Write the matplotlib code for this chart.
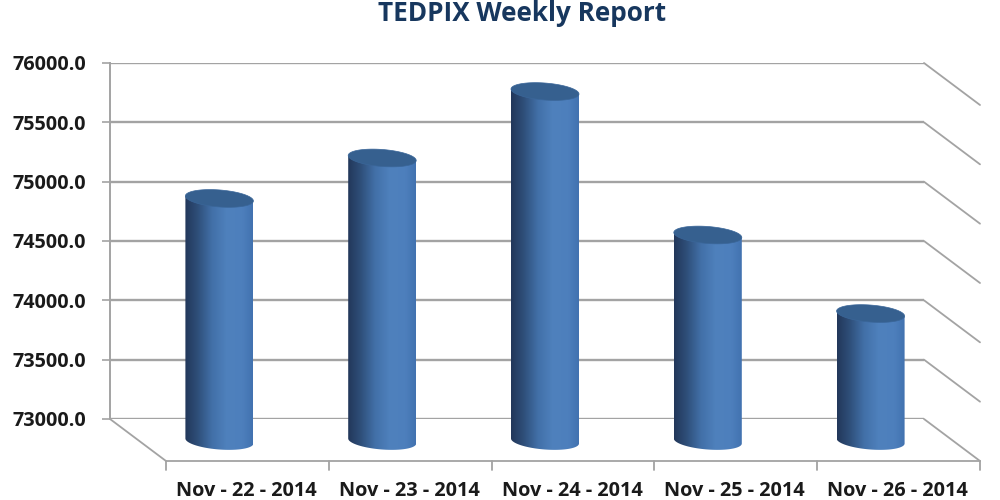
import numpy as np
import matplotlib
matplotlib.use("Agg")
import matplotlib.pyplot as plt
from matplotlib.colors import LinearSegmentedColormap
from matplotlib.patches import Polygon
from matplotlib.transforms import IdentityTransform

categories = ["Nov - 22 - 2014", "Nov - 23 - 2014", "Nov - 24 - 2014", "Nov - 25 - 2014", "Nov - 26 - 2014"]
values = [75044, 75385, 75945, 74736, 74074]
y_ticks = [73000, 73500, 74000, 74500, 75000, 75500, 76000]

GRID = "#a3a3a3"
NAVY = "#17375e"
plt.rcParams["font.family"] = ["Open Sans", "DejaVu Sans"]

fig = plt.figure(figsize=(10, 5), dpi=100)
ax = fig.add_axes([110 / 1000, 81 / 500, 814 / 1000, 356 / 500])
ax.set_xlim(-0.5, len(categories) - 0.5)
ax.set_ylim(y_ticks[0], y_ticks[-1])
ax.autoscale(False)
ax.patch.set_alpha(0)

for name in ["top", "right", "bottom"]:
    ax.spines[name].set_visible(False)
ax.spines["left"].set_color(GRID)
ax.spines["left"].set_linewidth(1.4)
ax.set_xticks([])
ax.set_yticks(y_ticks)
ax.set_yticklabels([f"{v:.1f}" for v in y_ticks], fontsize=14.2, fontweight="bold", color="#1a1a1a")
ax.tick_params(axis="y", length=6, width=1.2, color=GRID, pad=11)
ax.yaxis.grid(True, color=GRID, linewidth=1.7)
ax.set_axisbelow(True)

fig.text(0.5225, 0.973, "TEDPIX Weekly Report", ha="center", va="center",
         fontsize=18.8, fontweight="bold", color=NAVY)

ident = IdentityTransform()


def px(x, v):
    return ax.transData.transform((x, v))


def seg(p, q, lw=1.3):
    ax.plot([p[0], q[0]], [p[1], q[1]], color=GRID, lw=lw, transform=ident,
            clip_on=False, solid_capstyle="round", zorder=1)


# 3d depth of the floor, in pixels
depth = np.array([56, -42])
x0, x1 = -0.5, len(categories) - 0.5

for v in y_ticks:
    p = px(x1, v)
    seg(p, p + depth)
p = px(x0, y_ticks[0])
seg(p, p + depth)
seg(p + depth, px(x1, y_ticks[0]) + depth)
for k in range(len(categories) + 1):
    q = px(x0 + k, y_ticks[0]) + depth
    seg(q, q + np.array([0, -9]))

for i, label in enumerate(categories):
    q = px(i, y_ticks[0]) + depth
    ax.text(q[0] - 1, q[1] - 30, label, transform=ident, ha="center", va="center",
            fontsize=14.3, fontweight="bold", color="#1a1a1a", clip_on=False)

# cylinders
cyl_cmap = LinearSegmentedColormap.from_list("cyl", [
    (0.0, "#22375a"), (0.18, "#2e4e78"), (0.4, "#4270a8"),
    (0.62, "#4f81bd"), (0.85, "#4d7fbc"), (1.0, "#4272b0"),
])
grad = np.linspace(0, 1, 256).reshape(1, -1)
half_w = 34
semi_h = 8.5
tilt = 2.5
t = np.linspace(0, 2 * np.pi, 120)
mid = np.array([28, -22])

for i, v in enumerate(values):
    top = px(i, v) + mid
    base = px(i, y_ticks[0]) + mid
    cx = top[0]
    # lower half of the bottom ellipse, from left vertex to right vertex
    tb = np.linspace(np.pi, 2 * np.pi, 60)
    low_x = cx + half_w * np.cos(tb)
    low_y = base[1] + semi_h * np.sin(tb) - tilt * np.cos(tb)
    body = np.vstack([
        [cx - half_w, top[1] + tilt],
        np.column_stack([low_x, low_y]),
        [cx + half_w, top[1] - tilt],
    ])
    clip = Polygon(body, closed=True, transform=ident)
    im = ax.imshow(grad, extent=[cx - half_w, cx + half_w, low_y.min() - 1, top[1] + 5],
                   aspect="auto", cmap=cyl_cmap, transform=ident, zorder=3)
    im.set_clip_path(clip)
    im.set_clip_box(fig.bbox)
    cap = np.column_stack([cx + half_w * np.cos(t),
                           top[1] + semi_h * np.sin(t) - tilt * np.cos(t)])
    ax.add_patch(Polygon(cap, closed=True, transform=ident, facecolor="#36608f",
                         edgecolor="#3a6699", linewidth=0.5, clip_on=False, zorder=4))

ax.set_xlim(x0, x1)
ax.set_ylim(y_ticks[0], y_ticks[-1])
fig.savefig("out.png", dpi=100, facecolor="white")
